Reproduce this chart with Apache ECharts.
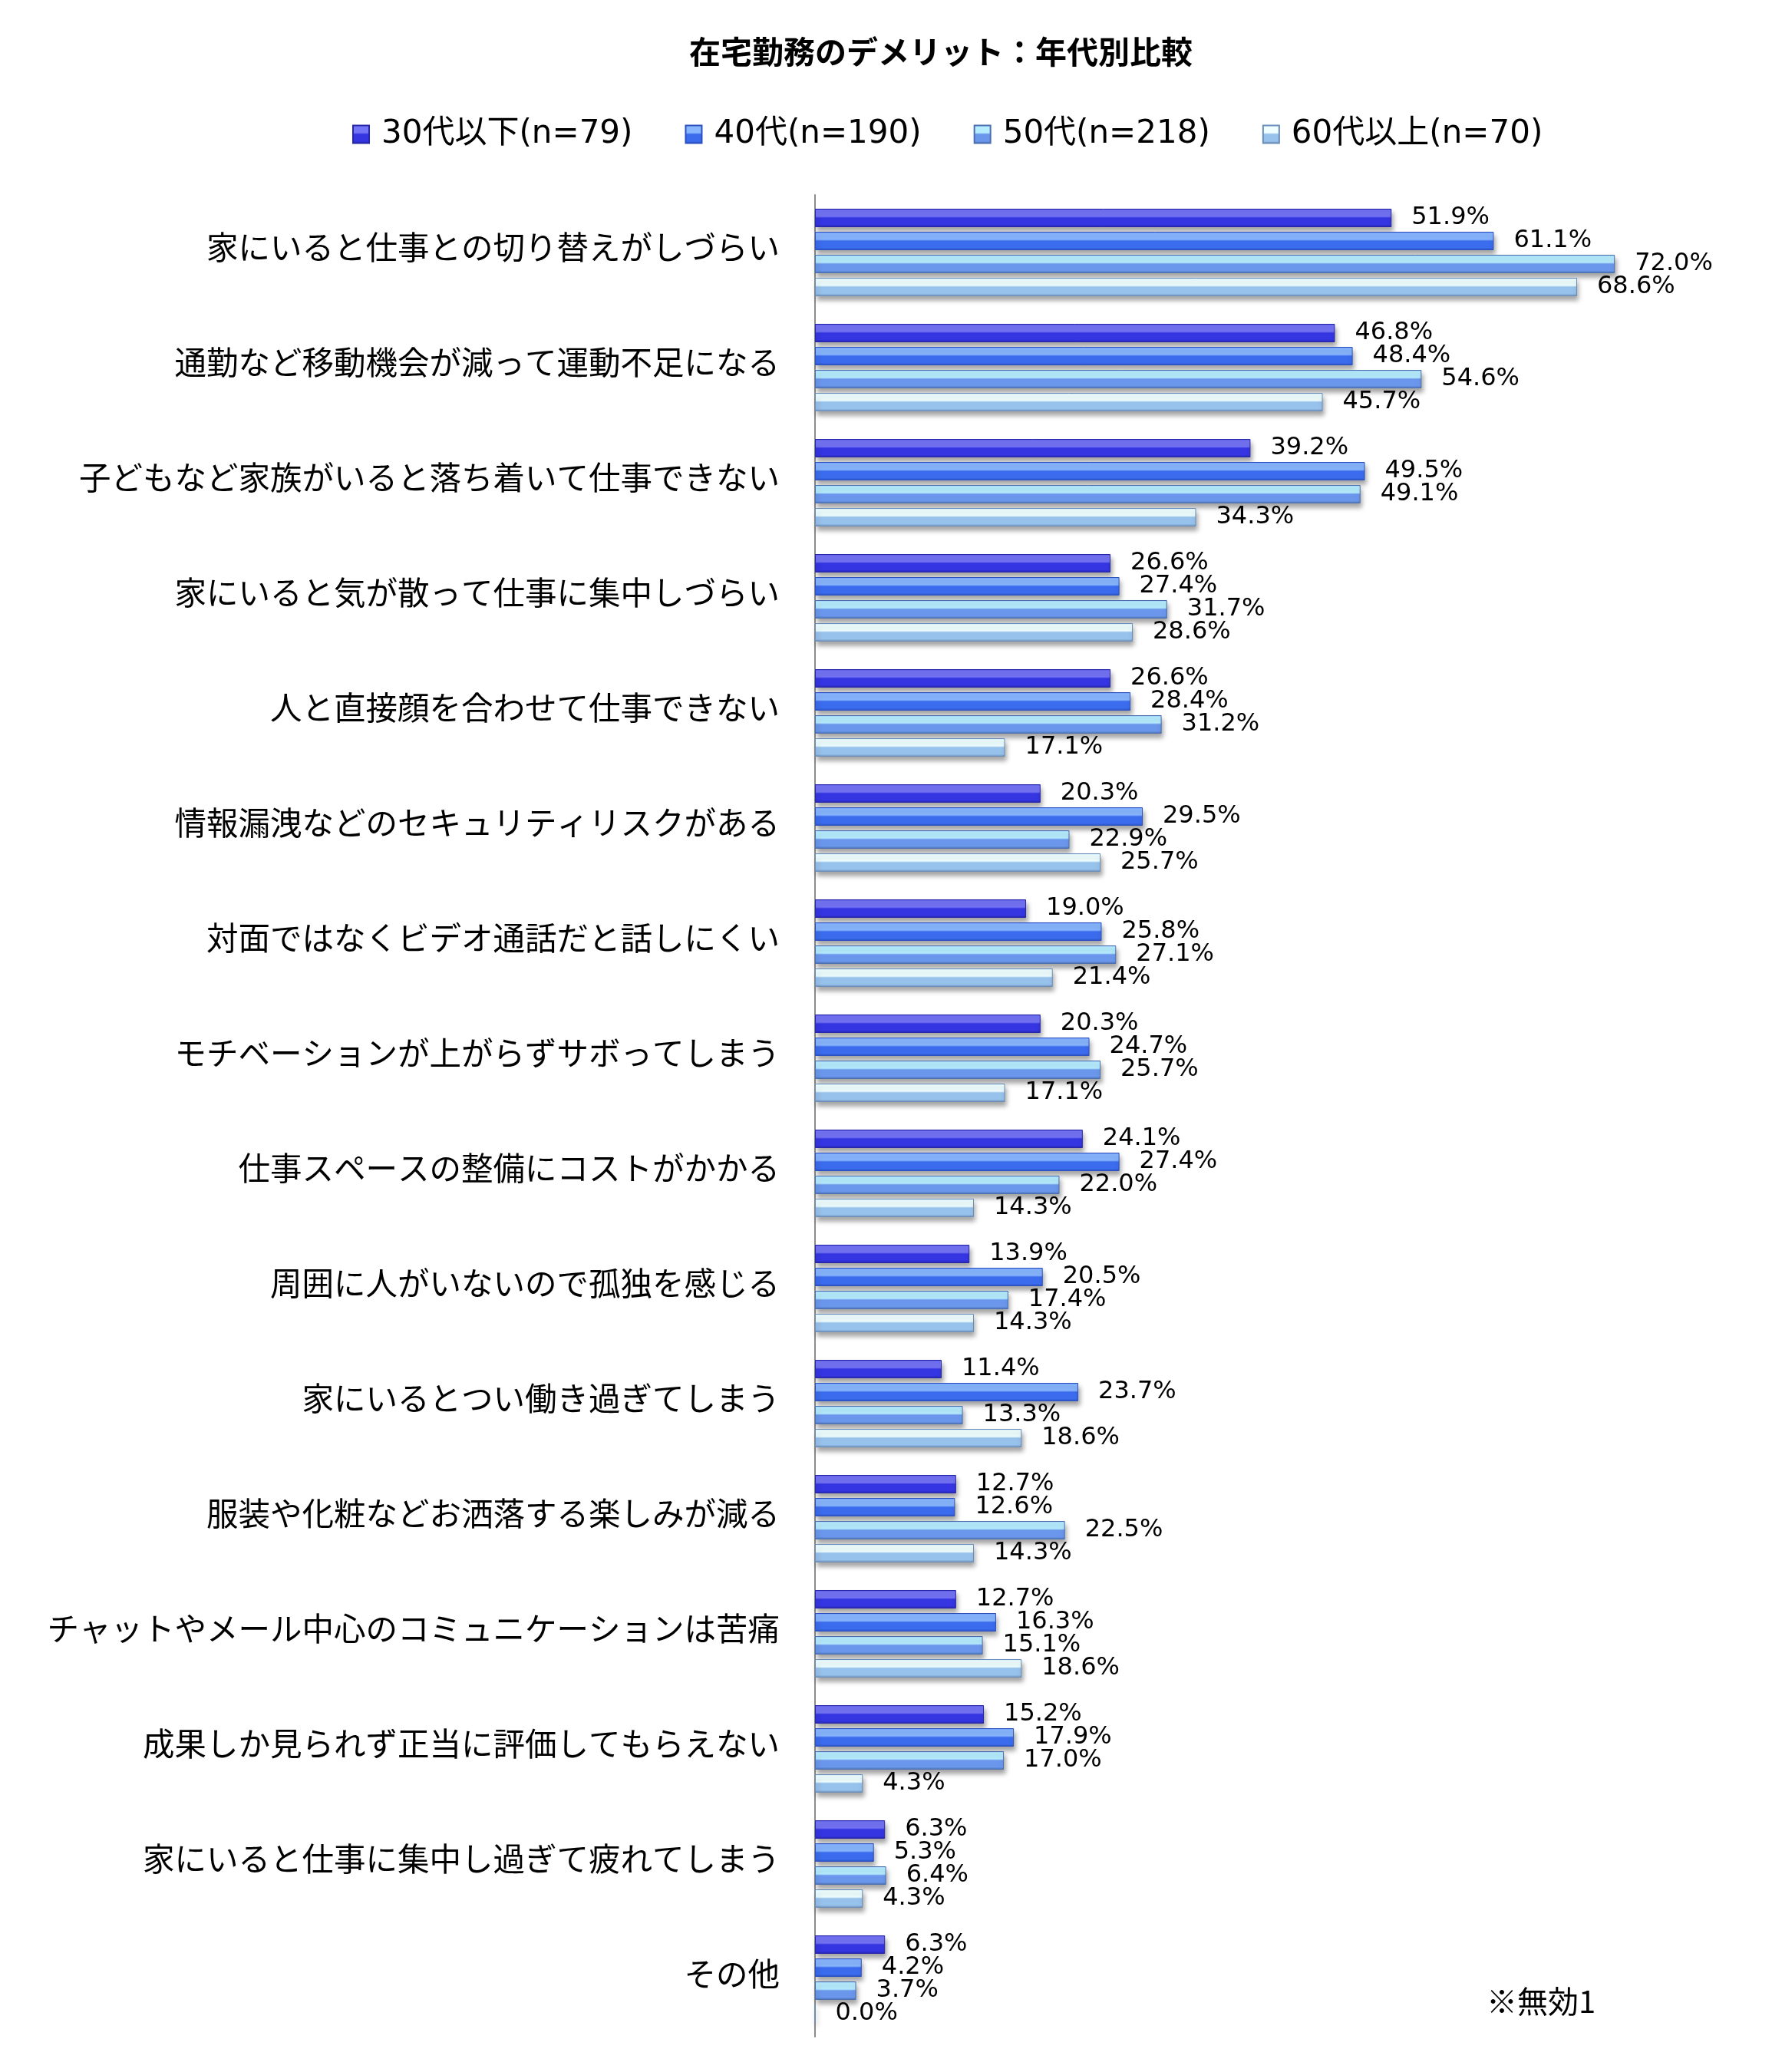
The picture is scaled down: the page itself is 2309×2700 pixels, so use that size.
<!DOCTYPE html>
<html>
<head>
<meta charset="utf-8">
<title>在宅勤務のデメリット：年代別比較</title>
<script src="https://cdn.jsdelivr.net/npm/echarts@6/dist/echarts.min.js"></script>
<style>
  html, body { margin: 0; padding: 0; background: #fff; }
  #chart { width: 2309px; height: 2700px; }
</style>
</head>
<body>
<div id="chart"></div>
<script>
const categories = [
    '家にいると仕事との切り替えがしづらい',
    '通勤など移動機会が減って運動不足になる',
    '子どもなど家族がいると落ち着いて仕事できない',
    '家にいると気が散って仕事に集中しづらい',
    '人と直接顔を合わせて仕事できない',
    '情報漏洩などのセキュリティリスクがある',
    '対面ではなくビデオ通話だと話しにくい',
    'モチベーションが上がらずサボってしまう',
    '仕事スペースの整備にコストがかかる',
    '周囲に人がいないので孤独を感じる',
    '家にいるとつい働き過ぎてしまう',
    '服装や化粧などお洒落する楽しみが減る',
    'チャットやメール中心のコミュニケーションは苦痛',
    '成果しか見られず正当に評価してもらえない',
    '家にいると仕事に集中し過ぎて疲れてしまう',
    'その他'
];

const seriesNames = ['30代以下(n=79)', '40代(n=190)', '50代(n=218)', '60代以上(n=70)'];

const age30 = [51.9, 46.8, 39.2, 26.6, 26.6, 20.3, 19.0, 20.3, 24.1, 13.9, 11.4, 12.7, 12.7, 15.2, 6.3, 6.3];
const age40 = [61.1, 48.4, 49.5, 27.4, 28.4, 29.5, 25.8, 24.7, 27.4, 20.5, 23.7, 12.6, 16.3, 17.9, 5.3, 4.2];
const age50 = [72.0, 54.6, 49.1, 31.7, 31.2, 22.9, 27.1, 25.7, 22.0, 17.4, 13.3, 22.5, 15.1, 17.0, 6.4, 3.7];
const age60 = [68.6, 45.7, 34.3, 28.6, 17.1, 25.7, 21.4, 17.1, 14.3, 14.3, 18.6, 14.3, 18.6, 4.3, 4.3, 0.0];

// bevel look: [edge, highlight, body, bottom]
const palettes = [
    ['#2a2ad0', '#7474f6', '#3535e2', '#2626a8'],
    ['#4a7ae8', '#88b6ff', '#3b6cee', '#2c50c0'],
    ['#78a8e8', '#b6ecff', '#6a97ec', '#4a6eb0'],
    ['#a8d0f0', '#effeff', '#97c2ec', '#6a8eb8']
];

const JP = '"Noto Sans CJK JP", sans-serif';
const NUM = '"DejaVu Sans", "Noto Sans CJK JP", sans-serif';

function barColor(p) {
    return new echarts.graphic.LinearGradient(0, 0, 0, 1, [
        { offset: 0, color: p[0] },
        { offset: 0.08, color: p[1] },
        { offset: 0.42, color: p[1] },
        { offset: 0.5, color: p[2] },
        { offset: 0.86, color: p[2] },
        { offset: 1, color: p[3] }
    ]);
}

function makeSeries(name, data, idx) {
    return {
        name: name,
        type: 'bar',
        data: data,
        barWidth: 24,
        barGap: '25%',
        itemStyle: {
            color: barColor(palettes[idx]),
            borderColor: palettes[idx][3],
            borderWidth: 1,
            shadowColor: 'rgba(0,0,0,0.35)',
            shadowBlur: 6,
            shadowOffsetX: 2,
            shadowOffsetY: 5
        },
        label: {
            show: true,
            position: 'right',
            distance: 26,
            color: '#000',
            fontFamily: NUM,
            fontSize: 32,
            formatter: (p) => p.value.toFixed(1) + '%'
        }
    };
}

const chart = echarts.init(document.getElementById('chart'));

chart.setOption({
    backgroundColor: '#fff',
    animation: false,
    title: {
        text: '在宅勤務のデメリット：年代別比較',
        left: 893,
        top: 42,
        textStyle: { fontFamily: JP, fontSize: 41, fontWeight: 'bold', color: '#000' }
    },
    legend: {
        data: seriesNames,
        left: 454,
        top: 149,
        icon: 'rect',
        itemWidth: 21,
        itemHeight: 23,
        itemGap: 68,
        textStyle: { fontFamily: NUM, fontSize: 42, color: '#000', padding: [0, 0, 0, 11] }
    },
    grid: { left: 1062, top: 254, width: 1158, height: 2400, containLabel: false },
    xAxis: {
        type: 'value',
        min: 0,
        max: 80,
        show: false
    },
    yAxis: {
        type: 'category',
        data: categories,
        inverse: true,
        axisLine: { show: true, lineStyle: { color: '#8c8c8c', width: 2 } },
        axisTick: { show: false },
        axisLabel: {
            margin: 46,
            formatter: (v) => '{c|' + v + '}',
            rich: {
                c: {
                    fontFamily: JP,
                    fontSize: 41.5,
                    color: '#000',
                    padding: [0, 0, 14, 0]
                }
            }
        }
    },
    series: [
        makeSeries(seriesNames[0], age30, 0),
        makeSeries(seriesNames[1], age40, 1),
        makeSeries(seriesNames[2], age50, 2),
        makeSeries(seriesNames[3], age60, 3)
    ],
    graphic: [{
        type: 'text',
        left: 1937,
        top: 2588,
        style: { text: '※無効1', fontFamily: JP, fontSize: 40, fill: '#000' }
    }]
});
</script>
</body>
</html>
